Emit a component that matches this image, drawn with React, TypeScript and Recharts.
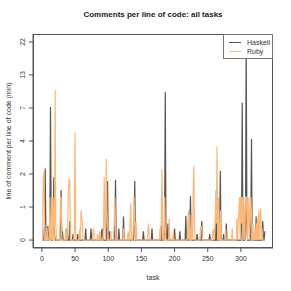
import React from "react";
import { LineChart, Line, XAxis, YAxis } from "recharts";

// comments per line of code, per task (raw values)
const HASKELL = [
  0, 0, 0, 0.3, 2.1, 0.2, 0, 0, 0.25, 0,
  0, 0.3, 7.2, 0.2, 0, 0, 0.2, 1.7, 0.1, 0,
  0, 0, 0, 0, 0, 0, 0, 0.2, 1.2, 0,
  0.15, 0, 0, 0, 0, 0, 0, 0.2, 0, 0,
  0, 0.35, 0, 0, 0, 0, 0.1, 0, 0, 0,
  0, 0, 0, 0.1, 0, 0, 0, 0, 0, 0,
  0, 0, 0, 0, 0, 0.2, 0, 0, 0, 0,
  0, 0, 0, 0.2, 0, 0, 0, 0, 0, 0,
  0, 0, 0, 0, 0, 0, 0, 0, 0, 0.15,
  0.2, 0, 0, 0, 0, 0, 0, 0.3, 1.55, 0,
  0, 0.15, 0, 0, 0, 0, 0, 0, 0, 0.3,
  1.6, 0, 0, 0, 0, 0.2, 0, 0, 0, 0,
  0, 0, 0.45, 0, 0, 0, 0, 0, 0, 0,
  0, 0, 0, 0, 0, 0, 0, 0, 0.3, 1.55,
  0, 0, 0, 0, 0, 0, 0, 0, 0, 0,
  0, 0, 0.15, 0, 0, 0, 0, 0, 0, 0,
  0, 0, 0, 0, 0, 0.2, 0, 0, 0, 0,
  0, 0, 0, 0, 0, 0, 0, 0, 0, 0.25,
  0, 0, 0, 0, 0.2, 9.4, 0.2, 0, 0, 0.3,
  0, 0, 0, 0, 0, 0, 0, 0, 0, 0.2,
  0, 0, 0, 0, 0, 0, 0, 0.15, 0, 0,
  0, 0, 0, 0, 0, 0, 0.47, 0, 0, 0,
  0, 0, 0.3, 1.0, 0, 0, 0, 0, 0, 0,
  0, 0, 0, 0.1, 0, 0, 0, 0, 0, 0,
  0.35, 0, 0, 0, 0, 0, 0, 0, 0, 0,
  0, 0, 0.1, 0, 0, 0, 0, 0, 0, 0,
  0, 0, 1.2, 0, 0, 0, 0, 0.2, 2.0, 0,
  0, 0, 0, 0.1, 0, 0, 0, 0.3, 0, 0,
  0, 0, 0, 0, 0, 0, 0, 0, 0, 0,
  0, 0, 0, 0, 0, 0, 0, 0, 0, 0,
  0.3, 7.8, 0, 0, 0, 0, 0.3, 22, 0.3, 0,
  0, 0, 0, 0, 0.3, 3.95, 0, 0, 0, 0,
  0, 0, 0.45, 0, 0, 0, 0, 0, 0, 0,
  0, 0, 0.35, 0, 0, 0.15,
];

const RUBY = [
  0, 1.7, 1.98, 0.3, 0, 0, 0, 0.2, 0, 0,
  0, 0.97, 0, 0, 0.97, 0, 0.97, 0.3, 0, 9.7,
  0.3, 0, 0, 0, 0, 0, 0, 0.97, 0.97, 0,
  0, 0, 0, 0, 0, 0.2, 0, 0, 0.3, 1.2,
  1.6, 1.55, 0, 0, 0, 0, 0, 0, 0.2, 4.5,
  0.1, 0, 0, 0, 0, 0, 0.2, 0, 0.6, 0.46,
  0.3, 0, 0, 0, 0, 0, 0, 0, 0, 0,
  0, 0, 0, 0, 0, 0, 0.15, 0.2, 0, 0,
  0, 0, 0, 0.1, 0, 0, 0.15, 0, 0, 0,
  0, 0, 0.3, 1.72, 0.2, 0, 2.6, 0.6, 0.3, 0,
  0, 0, 0, 0.15, 0, 0, 0, 0, 0.3, 0.97,
  0.3, 0, 0, 0, 0, 0, 0, 0, 0, 0,
  0, 0, 0.2, 0, 0, 0, 0, 0, 0, 0.15,
  0, 0, 0.3, 0.79, 0, 0, 0, 0.3, 0.98, 0.3,
  0, 0.34, 0, 0, 0, 0, 0, 0, 0, 0,
  0, 0, 0, 0, 0, 0, 0, 0, 0, 0.2,
  0.3, 0, 0, 0, 0, 0, 0, 0, 0, 0,
  0, 0, 0, 0, 0, 0, 0, 0.2, 0, 0.3,
  2.07, 0.3, 0, 0, 0.98, 0.2, 0, 0, 0, 0,
  0, 0.4, 0, 0, 0, 0, 0, 0.15, 0, 0,
  0, 0, 0, 0, 0, 0, 0, 0, 0, 0,
  0, 0, 0, 0, 0, 0, 0, 0, 0, 0.3,
  0.6, 0, 0.5, 0, 0, 0.4, 0, 0.98, 2.24, 0.3,
  0, 0, 0, 0, 0, 0, 0, 0, 0.2, 0.25,
  0.2, 0, 0, 0, 0, 0, 0, 0, 0, 0,
  0, 0, 0, 0, 0, 0, 0, 0.2, 0.15, 0,
  0.3, 0.98, 0.3, 3.4, 0, 0.98, 0, 0, 0.6, 0,
  0, 0, 0, 0, 0, 0, 0.2, 0, 0, 0,
  0, 0, 0, 0, 0, 0, 0.2, 0, 0, 0,
  0, 0, 0, 0.4, 0, 0.3, 0.6, 0.98, 0, 0.98,
  0.3, 0.98, 0, 0.98, 0.6, 0, 0.98, 0.98, 0.5, 0,
  0.6, 0.98, 0, 0.4, 0.98, 0.5, 0, 0.3, 0, 0,
  0.2, 0, 0.3, 0, 0.4, 0, 0.6, 0, 0.5, 0.65,
  0, 0.2, 0, 0, 0, 0,
];

const X_TICKS = [0, 50, 100, 150, 200, 250, 300];
const Y_TICK_LABELS = [0, 1, 2, 4, 7, 13, 22];

// y axis is log(1 + value), labelled at equal steps
const Y_MAX = Math.log1p(22);
const Y_TICKS = Y_TICK_LABELS.map((_, i) => (i * Y_MAX) / 6);

const data = HASKELL.map((h, i) => ({
  task: i + 1,
  haskell: Math.log1p(h),
  ruby: Math.log1p(RUBY[i] ?? 0),
}));

const FONT = "'Liberation Sans', Arial, sans-serif";
const HASKELL_COLOR = "#555555";
const RUBY_COLOR = "#fdb877";

const YTick = ({ x, y, payload }: any) => {
  const idx = Y_TICKS.findIndex((t) => Math.abs(t - payload.value) < 1e-6);
  const lx = x - 2;
  return (
    <text
      x={lx}
      y={y}
      transform={`rotate(-90 ${lx} ${y})`}
      textAnchor="middle"
      fontSize={7}
      fill="#333"
      fontFamily={FONT}
    >
      {idx >= 0 ? Y_TICK_LABELS[idx] : ""}
    </text>
  );
};

const LegendBox = () => (
  <div
    style={{
      position: "absolute",
      left: 223,
      top: 34,
      border: "1px solid #777",
      background: "#fff",
      width: 50,
      height: 25,
      fontFamily: FONT,
      fontSize: 7,
      color: "#333",
      boxSizing: "border-box",
      padding: "3px 0 0 5px",
      lineHeight: "9px",
    }}
  >
    {[
      { name: "Haskell", color: HASKELL_COLOR },
      { name: "Ruby", color: RUBY_COLOR },
    ].map((s) => (
      <div key={s.name} style={{ display: "flex", alignItems: "center" }}>
        <span
          style={{
            display: "inline-block",
            width: 12,
            height: 0,
            borderTop: `1.3px solid ${s.color}`,
            marginRight: 6,
          }}
        />
        {s.name}
      </div>
    ))}
  </div>
);

export default function App() {
  return (
    <div style={{ position: "absolute", left: 0, top: 0, width: 291, height: 291, background: "#fff" }}>
      <div
        style={{
          position: "absolute",
          left: 33,
          width: 240,
          top: 10,
          textAlign: "center",
          fontFamily: FONT,
          fontWeight: "bold",
          fontSize: 8,
          color: "#222",
        }}
      >
        Comments per line of code: all tasks
      </div>
      <LineChart
        width={291}
        height={291}
        data={data}
        margin={{ top: 34, right: 18, bottom: 0, left: 0 }}
      >
        <XAxis
          dataKey="task"
          type="number"
          domain={[-13.4, 348.4]}
          ticks={X_TICKS}
          allowDataOverflow
          height={43}
          tickSize={4}
          tickMargin={4}
          tickLine={{ stroke: "#555" }}
          axisLine={{ stroke: "#555" }}
          tick={{ fontSize: 7, fill: "#333", fontFamily: FONT }}
        />
        <YAxis
          type="number"
          domain={[-0.04 * Y_MAX, 1.04 * Y_MAX]}
          ticks={Y_TICKS}
          allowDataOverflow
          width={33}
          tickSize={4}
          tickLine={{ stroke: "#555" }}
          axisLine={{ stroke: "#555" }}
          tick={<YTick />}
        />
        <Line
          type="linear"
          dataKey="haskell"
          name="Haskell"
          stroke={HASKELL_COLOR}
          strokeWidth={1.2}
          dot={false}
          isAnimationActive={false}
        />
        <Line
          type="linear"
          dataKey="ruby"
          name="Ruby"
          stroke={RUBY_COLOR}
          strokeWidth={1.2}
          dot={false}
          isAnimationActive={false}
        />
      </LineChart>
      <div
        style={{
          position: "absolute",
          left: 33,
          top: 34,
          width: 240,
          height: 214,
          border: "1px solid #555",
          boxSizing: "border-box",
          pointerEvents: "none",
        }}
      />
      <LegendBox />
      <div
        style={{
          position: "absolute",
          left: 33,
          width: 240,
          top: 274,
          textAlign: "center",
          fontFamily: FONT,
          fontSize: 7,
          color: "#333",
        }}
      >
        task
      </div>
      <div
        style={{
          position: "absolute",
          left: 8,
          top: 141,
          transform: "translate(-50%, -50%) rotate(-90deg)",
          whiteSpace: "nowrap",
          fontFamily: FONT,
          fontSize: 7,
          color: "#333",
        }}
      >
        line of comment per line of code (min)
      </div>
    </div>
  );
}
